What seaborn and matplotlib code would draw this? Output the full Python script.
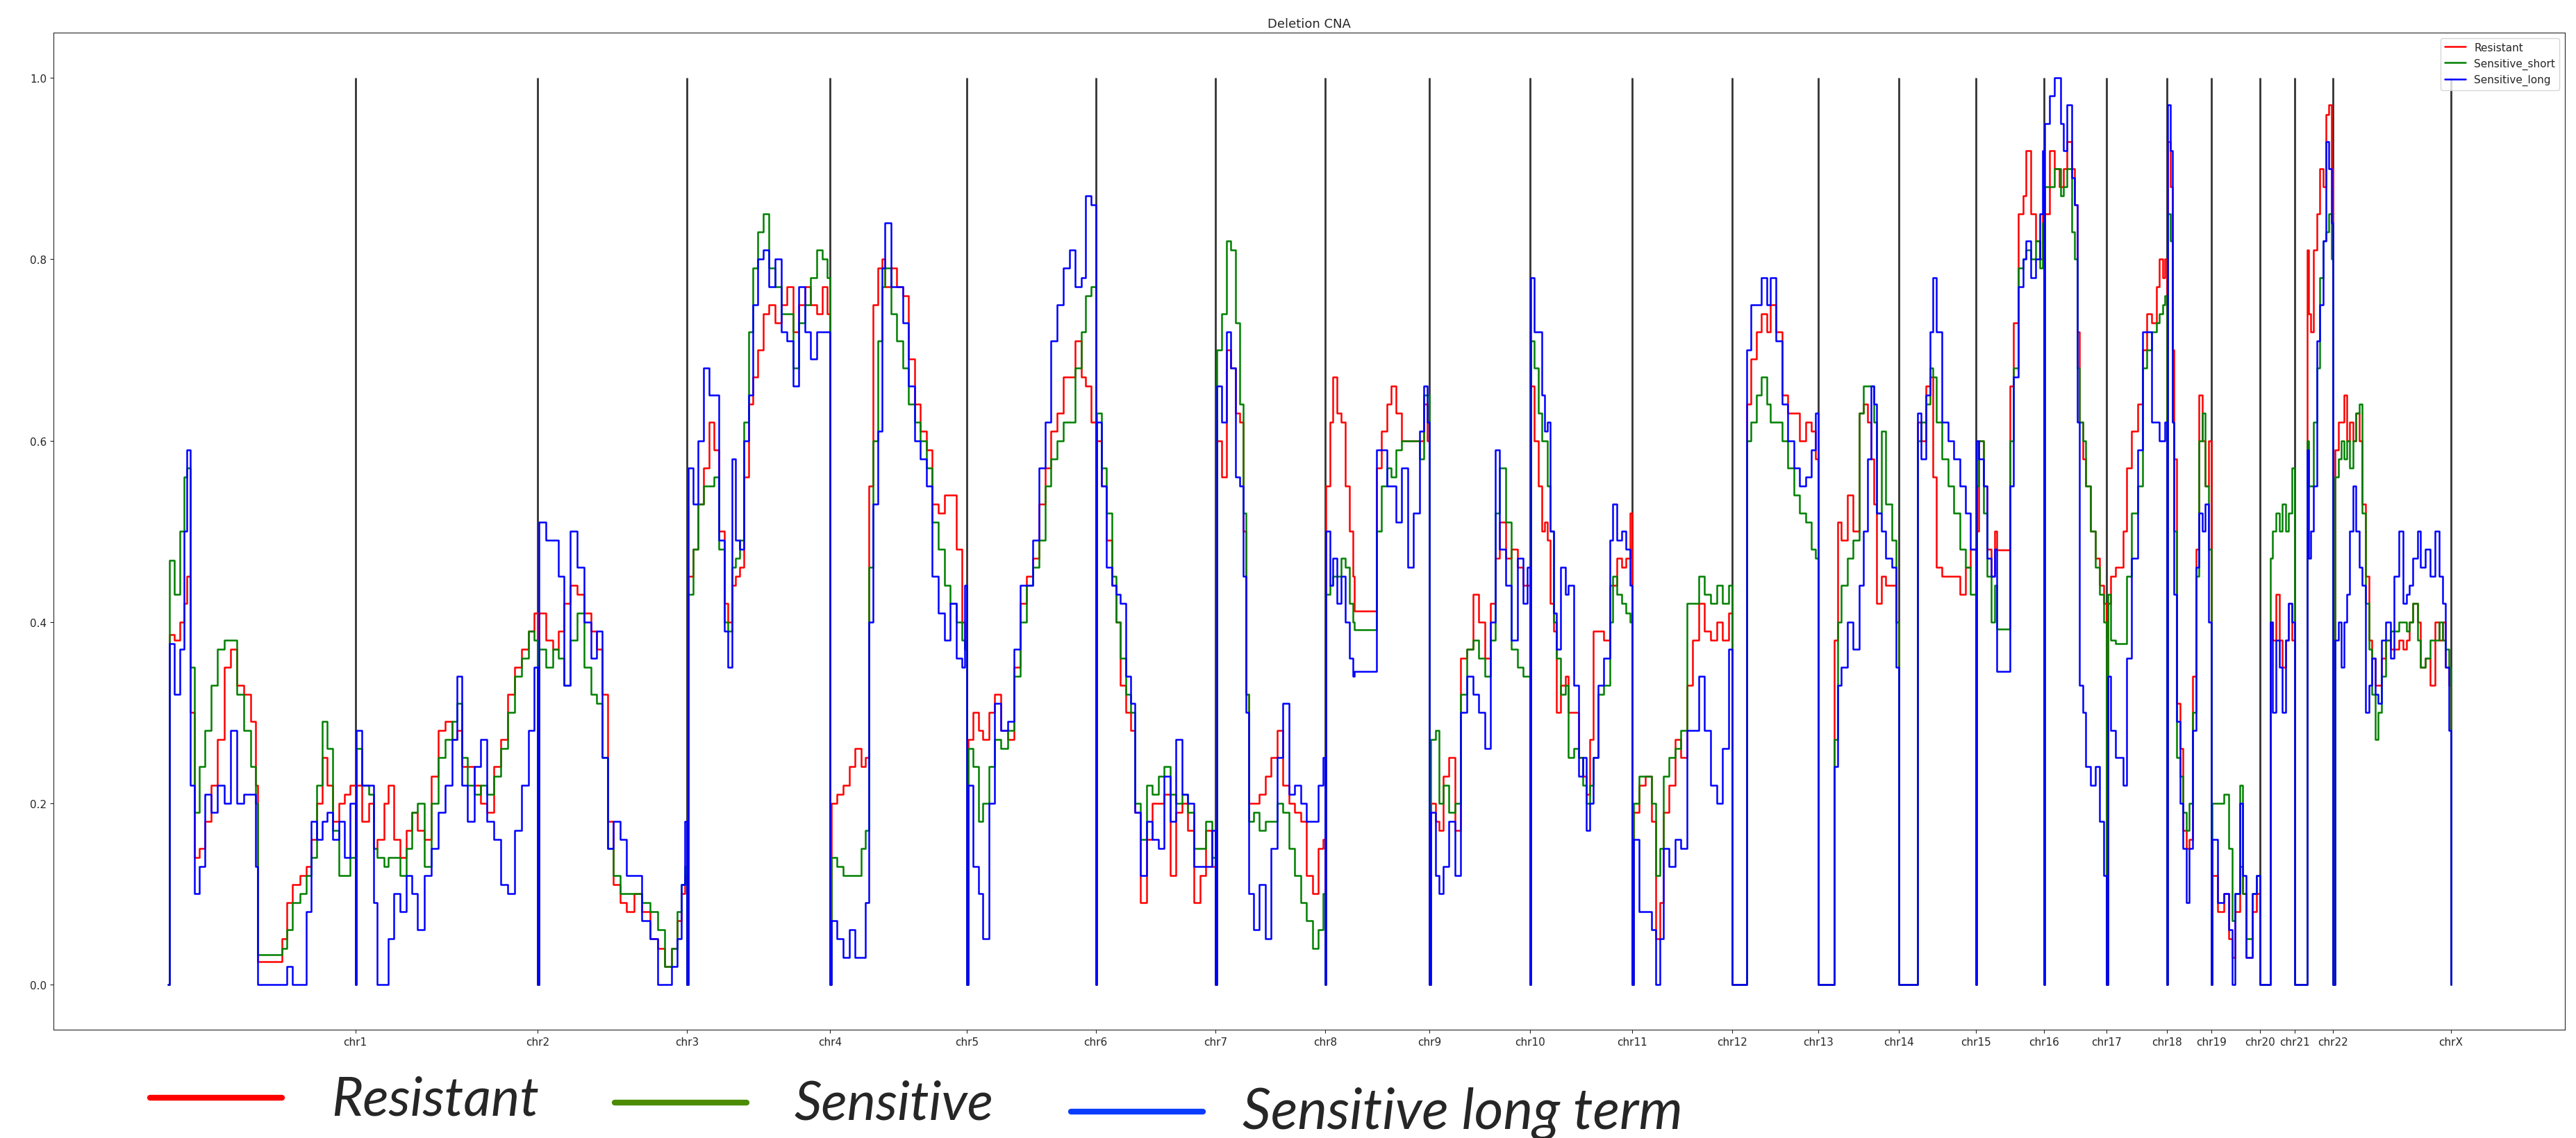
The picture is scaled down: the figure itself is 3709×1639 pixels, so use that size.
# Deletion CNA profile along the genome for three sample groups.
import seaborn as sns
import matplotlib.pyplot as plt
from matplotlib.lines import Line2D
import pandas as pd

# chromosome names and their end positions (genomic window index)
chrom_names = ['chr1', 'chr2', 'chr3', 'chr4', 'chr5', 'chr6', 'chr7', 'chr8', 'chr9', 'chr10',
               'chr11', 'chr12', 'chr13', 'chr14', 'chr15', 'chr16', 'chr17', 'chr18', 'chr19',
               'chr20', 'chr21', 'chr22', 'chrX']
chrom_end = [270.1, 532.8, 747.9, 954.2, 1151.2, 1336.5, 1509.3, 1666.8, 1816.9, 1962.1,
             2108.6, 2253.2, 2377.3, 2493.4, 2604.0, 2702.0, 2792.3, 2879.5, 2943.1,
             3013.0, 3063.7, 3118.8, 3288.1]

# window positions, one line per chromosome
window = [
    0, 2, 10, 18, 24, 28, 33, 39, 46, 54, 63, 72, 82, 91, 100, 110, 120, 127, 130, 165, 172, 180, 191, 200, 207, 215, 223, 230, 238, 247, 255, 263,
    270.1, 272, 280, 290, 297, 302, 312, 318, 326, 335, 344, 352, 360, 370, 380, 390, 400, 410, 417, 424, 432, 442, 451, 460, 470, 480, 490, 500, 510, 520, 528,
    532.8, 535, 545, 555, 563, 571, 580, 590, 600, 610, 618, 626, 634, 642, 652, 661, 672, 683, 695, 706, 716, 726, 734, 740, 745,
    747.9, 750, 757, 764, 772, 780, 787, 794, 802, 807, 813, 818, 824, 830, 837, 843, 850, 858, 866, 875, 884, 892, 901, 909, 918, 926, 935, 943, 950,
    954.2, 956, 964, 973, 982, 990, 999, 1005, 1010, 1016, 1023, 1029, 1033, 1042, 1050, 1059, 1067, 1076, 1084, 1093, 1101, 1110, 1119, 1127, 1136, 1144, 1148,
    1151.2, 1153, 1160, 1168, 1174, 1183, 1191, 1200, 1210, 1219, 1228, 1237, 1246, 1255, 1264, 1272, 1281, 1290, 1299, 1307, 1316, 1322, 1330,
    1336.5, 1338, 1345, 1352, 1360, 1366, 1372, 1380, 1387, 1393, 1401, 1410, 1418, 1427, 1435, 1444, 1452, 1461, 1469, 1478, 1487, 1495, 1504,
    1509.3, 1511, 1518, 1525, 1531, 1538, 1544, 1549, 1553, 1557, 1564, 1572, 1581, 1589, 1598, 1606, 1615, 1623, 1632, 1640, 1649, 1657, 1664,
    1666.8, 1668, 1674, 1678, 1684, 1690, 1696, 1702, 1707, 1709, 1741, 1748, 1756, 1762, 1769, 1777, 1786, 1794, 1803, 1809, 1814,
    1816.9, 1819, 1826, 1831, 1837, 1845, 1854, 1862, 1871, 1880, 1888, 1897, 1905, 1912, 1918, 1927, 1935, 1944, 1952, 1958,
    1962.1, 1963, 1968, 1974, 1979, 1983, 1987, 1991, 1996, 2000, 2006, 2013, 2017, 2025, 2032, 2038, 2043, 2048, 2053, 2060, 2068, 2077, 2081, 2087, 2094, 2100, 2106,
    2108.6, 2111, 2119, 2128, 2137, 2143, 2149, 2154, 2162, 2171, 2179, 2188, 2196, 2205, 2213, 2222, 2231, 2239, 2248,
    2253.2, 2274, 2280, 2288, 2295, 2303, 2308, 2316, 2325, 2333, 2342, 2350, 2359, 2367, 2373,
    2377.3, 2400, 2405, 2410, 2419, 2427, 2436, 2442, 2448, 2453, 2457, 2461, 2468, 2474, 2483, 2489,
    2493.4, 2520, 2525, 2532, 2538, 2542, 2547, 2555, 2564, 2572, 2581, 2589, 2596,
    2604.0, 2605, 2608, 2615, 2620, 2626, 2631, 2634, 2653, 2658, 2665, 2672, 2676, 2683, 2690, 2696, 2700,
    2702.0, 2703, 2710, 2717, 2724, 2726, 2730, 2735, 2742, 2746, 2750, 2753, 2758, 2762, 2769, 2776, 2782, 2788,
    2792.3, 2794, 2798, 2805, 2816, 2821, 2828, 2837, 2844, 2850, 2857, 2864, 2868, 2873, 2876,
    2879.5, 2880, 2884, 2887, 2889, 2893, 2898, 2902, 2907, 2911, 2916, 2921, 2925, 2930, 2934, 2939,
    2943.1, 2944, 2952, 2961, 2968, 2973, 2977, 2984, 2988, 2993, 3002, 3008,
    3013.0, 3028, 3031, 3036, 3041, 3045, 3050, 3054, 3059,
    3063.7, 3081, 3083, 3086, 3090, 3095, 3099, 3104, 3108, 3112, 3116,
    3118.8, 3121, 3126, 3130, 3134, 3138, 3142, 3147, 3151, 3156, 3160, 3165, 3170, 3174, 3179, 3183, 3188, 3194, 3201, 3206, 3213, 3219, 3224, 3228, 3233, 3240, 3244, 3251, 3258, 3265, 3271, 3276, 3280, 3285, 3288.1,
]

resistant = [
    0, .386, .38, .40, .42, .45, .30, .14, .15, .18, .22, .27, .35, .37, .33, .32, .29, .22, .025, .05, .09, .11, .12, .13, .16, .20, .25, .22, .18, .20, .21, .22,
    0, .22, .18, .20, .15, .16, .20, .22, .16, .14, .17, .19, .17, .16, .23, .28, .29, .27, .28, .24, .24, .22, .20, .19, .24, .27, .32, .35, .37, .39, .41,
    0, .41, .38, .37, .39, .42, .44, .43, .41, .39, .37, .32, .18, .11, .09, .08, .10, .08, .05, .04, .02, .04, .07, .10, .12,
    0, .45, .48, .53, .57, .62, .59, .50, .42, .40, .44, .45, .46, .56, .64, .67, .70, .74, .75, .73, .75, .77, .72, .75, .77, .75, .74, .77, .74,
    0, .20, .21, .22, .24, .26, .24, .25, .55, .75, .79, .80, .77, .79, .77, .76, .69, .64, .61, .59, .53, .52, .54, .54, .48, .40, .37,
    0, .27, .30, .28, .27, .30, .32, .28, .27, .35, .42, .45, .47, .53, .57, .61, .63, .67, .67, .71, .67, .66, .62,
    0, .60, .55, .49, .44, .40, .33, .30, .28, .19, .09, .16, .20, .20, .21, .12, .19, .20, .17, .09, .12, .17, .13,
    0, .60, .56, .70, .68, .63, .62, .50, .32, .20, .20, .21, .23, .25, .28, .22, .20, .19, .18, .12, .10, .15, .16,
    0, .55, .62, .67, .63, .62, .55, .50, .45, .412, .57, .61, .64, .66, .63, .60, .60, .60, .60, .64, .60,
    0, .20, .18, .17, .23, .25, .17, .36, .37, .43, .40, .36, .42, .47, .51, .47, .48, .46, .44, .44,
    0, .66, .60, .55, .50, .51, .49, .42, .39, .30, .33, .34, .30, .30, .25, .23, .21, .27, .39, .39, .38, .44, .44, .47, .46, .47, .52,
    0, .19, .22, .23, .18, .05, .09, .19, .22, .27, .25, .33, .38, .42, .39, .38, .40, .38, .41,
    0, .64, .69, .72, .74, .72, .75, .72, .65, .63, .63, .60, .62, .61, .58,
    0, .38, .51, .49, .54, .50, .63, .64, .62, .58, .53, .42, .45, .44, .44, .40,
    0, .62, .60, .66, .67, .56, .46, .45, .45, .45, .43, .46, .48,
    0, .50, .60, .55, .48, .45, .50, .479, .66, .73, .85, .87, .92, .85, .82, .80, .85,
    0, .85, .92, .90, .88, .88, .90, .93, .90, .86, .72, .62, .58, .55, .50, .47, .44, .42,
    0, .42, .45, .46, .50, .57, .61, .64, .70, .74, .73, .77, .80, .78, .80,
    0, .93, .88, .70, .58, .31, .26, .17, .15, .16, .34, .48, .65, .60, .55, .60,
    0, .12, .08, .10, .05, .03, .08, .13, .10, .03, .08, .10,
    0, .40, .38, .43, .38, .35, .38, .42, .38,
    0, .81, .74, .72, .81, .85, .90, .88, .96, .97, .90,
    0, .59, .62, .62, .65, .60, .62, .60, .63, .60, .53, .45, .38, .36, .33, .33, .36, .38, .37, .37, .38, .37, .38, .40, .42, .40, .35, .36, .33, .40, .38, .40, .35, .33, 0,
]

sensitive_short = [
    0, .468, .43, .50, .56, .57, .35, .19, .24, .28, .33, .37, .38, .38, .32, .28, .24, .20, .033, .04, .06, .09, .10, .12, .14, .22, .29, .26, .17, .12, .12, .14,
    0, .26, .22, .21, .15, .14, .13, .14, .14, .12, .15, .19, .20, .13, .20, .25, .27, .29, .31, .25, .22, .21, .22, .21, .23, .26, .30, .34, .36, .39, .38,
    0, .37, .35, .37, .36, .33, .38, .41, .35, .32, .31, .25, .15, .12, .10, .10, .10, .09, .08, .06, .02, .04, .08, .11, .13,
    0, .43, .48, .53, .55, .55, .56, .48, .40, .39, .46, .47, .49, .62, .72, .79, .83, .85, .79, .77, .74, .74, .68, .73, .75, .78, .81, .80, .78,
    0, .14, .13, .12, .12, .12, .15, .17, .46, .60, .71, .77, .79, .74, .71, .68, .64, .62, .60, .57, .51, .48, .44, .42, .40, .38, .37,
    0, .26, .24, .18, .20, .24, .27, .26, .28, .34, .40, .44, .46, .49, .55, .58, .60, .62, .62, .68, .72, .76, .77,
    0, .63, .57, .52, .45, .40, .36, .32, .30, .20, .16, .22, .21, .23, .24, .21, .20, .21, .19, .15, .15, .18, .14,
    0, .70, .74, .82, .81, .73, .64, .52, .32, .18, .19, .17, .18, .18, .20, .19, .15, .12, .09, .07, .04, .06, .10,
    0, .43, .44, .45, .45, .47, .46, .42, .40, .391, .50, .55, .57, .56, .59, .60, .60, .60, .58, .65, .65,
    0, .27, .28, .20, .22, .19, .20, .32, .37, .38, .36, .34, .38, .52, .57, .51, .37, .35, .34, .34,
    0, .71, .68, .63, .60, .60, .55, .50, .40, .36, .32, .33, .25, .26, .25, .22, .20, .22, .25, .32, .33, .40, .45, .43, .42, .41, .40,
    0, .20, .23, .23, .20, .12, .15, .23, .25, .26, .28, .42, .42, .45, .43, .42, .44, .42, .44,
    0, .60, .62, .65, .67, .64, .62, .62, .60, .57, .54, .52, .51, .48, .47,
    0, .27, .40, .44, .47, .49, .63, .66, .66, .66, .62, .52, .61, .53, .49, .40,
    0, .60, .62, .64, .68, .67, .62, .58, .55, .52, .48, .46, .43,
    0, .55, .60, .52, .45, .40, .44, .392, .60, .68, .79, .80, .81, .80, .82, .79, .84,
    0, .88, .88, .90, .90, .87, .88, .90, .83, .80, .68, .62, .60, .55, .50, .46, .43, .40,
    0, .43, .38, .376, .376, .45, .52, .55, .68, .70, .72, .73, .74, .75, .76,
    0, .85, .82, .62, .50, .25, .23, .19, .17, .20, .30, .45, .60, .63, .55, .48,
    0, .20, .20, .21, .15, .07, .10, .22, .10, .05, .10, .12,
    0, .47, .50, .52, .50, .53, .50, .52, .57,
    0, .60, .55, .55, .62, .68, .78, .82, .83, .85, .80,
    0, .56, .58, .60, .58, .60, .57, .60, .63, .64, .52, .42, .37, .32, .27, .30, .34, .38, .39, .39, .40, .40, .39, .40, .42, .38, .35, .36, .38, .38, .40, .38, .37, .35, 0,
]

sensitive_long = [
    0, .376, .32, .37, .50, .59, .22, .10, .13, .21, .19, .22, .20, .28, .20, .21, .21, .13, 0, 0, .02, 0, 0, .08, .18, .16, .18, .19, .16, .18, .14, .20,
    0, .28, .22, .22, .09, 0, 0, .05, .10, .08, .12, .10, .06, .12, .15, .19, .22, .27, .34, .22, .18, .24, .27, .18, .16, .11, .10, .17, .22, .28, .35,
    0, .51, .49, .49, .45, .33, .50, .46, .40, .36, .39, .25, .15, .18, .16, .12, .12, .07, .05, 0, 0, .02, .05, .11, .18,
    0, .57, .53, .60, .68, .65, .65, .49, .39, .35, .58, .49, .48, .60, .65, .75, .80, .81, .77, .80, .72, .71, .66, .77, .72, .69, .72, .72, .72,
    0, .07, .05, .03, .06, .03, .03, .09, .40, .53, .61, .79, .84, .77, .77, .73, .66, .60, .58, .55, .45, .41, .38, .42, .36, .35, .44,
    0, .22, .13, .10, .05, .20, .31, .28, .29, .37, .44, .44, .49, .57, .62, .71, .75, .79, .81, .77, .78, .87, .86,
    0, .62, .55, .46, .44, .43, .42, .34, .31, .19, .12, .18, .16, .15, .23, .18, .27, .21, .20, .13, .13, .13, .17,
    0, .66, .62, .72, .68, .56, .55, .45, .30, .10, .06, .11, .05, .15, .25, .31, .21, .22, .20, .18, .18, .22, .25,
    0, .50, .44, .47, .42, .45, .40, .36, .34, .345, .59, .59, .55, .55, .51, .57, .46, .52, .61, .66, .62,
    0, .19, .12, .10, .13, .18, .12, .30, .34, .32, .30, .26, .40, .59, .48, .44, .38, .47, .42, .46,
    0, .78, .72, .72, .65, .61, .62, .50, .41, .37, .46, .43, .44, .33, .23, .25, .17, .20, .25, .33, .36, .49, .53, .49, .50, .48, .44,
    0, .16, .08, .08, .06, 0, .05, .15, .13, .16, .15, .28, .28, .34, .28, .22, .20, .26, .37,
    0, .70, .75, .75, .78, .75, .78, .71, .64, .60, .57, .55, .56, .59, .63,
    0, .24, .33, .35, .40, .37, .44, .50, .58, .66, .64, .52, .50, .47, .46, .35,
    0, .63, .58, .65, .72, .78, .72, .62, .60, .58, .55, .52, .48,
    0, .60, .58, .55, .47, .45, .48, .345, .55, .67, .77, .80, .82, .78, .80, .85, .92,
    0, .95, .98, 1.0, 1.0, .95, .92, .97, .89, .86, .62, .33, .30, .24, .22, .24, .18, .12,
    0, .34, .28, .25, .22, .36, .47, .59, .72, .72, .62, .62, .60, .60, .62,
    0, .97, .92, .62, .43, .29, .20, .15, .09, .15, .28, .46, .52, .50, .53, .40,
    0, .16, .09, .10, .06, 0, .10, .20, .12, .03, .10, .12,
    0, .40, .30, .38, .35, .30, .38, .42, .40,
    0, .59, .47, .50, .55, .71, .75, .82, .93, .90, .84,
    0, .38, .40, .35, .40, .43, .50, .55, .50, .46, .44, .30, .33, .36, .32, .31, .38, .40, .36, .45, .50, .42, .43, .44, .47, .50, .46, .48, .45, .50, .45, .42, .35, .28, 0,
]

df = pd.DataFrame({'window': window, 'Resistant': resistant,
                   'Sensitive_short': sensitive_short, 'Sensitive_long': sensitive_long})

sns.set_style('ticks')
plt.rcParams['font.family'] = ['DejaVu Sans']

fig, ax = plt.subplots(figsize=(37.09, 16.40), dpi=100)
fig.subplots_adjust(left=0.0208, right=0.9957, top=0.9707, bottom=0.0951)

# chromosome borders
ax.vlines(chrom_end, 0, 1, colors='#333333', linewidth=2, zorder=1)

for col, c in [('Resistant', 'red'), ('Sensitive_short', 'green'), ('Sensitive_long', 'blue')]:
    sns.lineplot(data=df, x='window', y=col, color=c, label=col, ax=ax,
                 estimator=None, sort=False, drawstyle='steps-post', linewidth=1.8, zorder=2)

ax.set_xlim(-164.4, 3452.5)
ax.set_ylim(-0.05, 1.05)
ax.set_xticks(chrom_end)
ax.set_xticklabels(chrom_names, fontsize=11)
ax.set_yticks([0.0, 0.2, 0.4, 0.6, 0.8, 1.0])
ax.set_yticklabels(['0.0', '0.2', '0.4', '0.6', '0.8', '1.0'], fontsize=11)
ax.set_xlabel('')
ax.set_ylabel('')
ax.set_title('Deletion CNA', fontsize=13)
ax.legend(loc='upper right', fontsize=11)

# big legend under the plot
big = [('Resistant', '#ff0000', 0.0582, 0.1095, 0.0354, 0.1286, 0.0207, 56),
       ('Sensitive', '#4b8c00', 0.2386, 0.2898, 0.0311, 0.3084, 0.0165, 56),
       ('Sensitive long term', '#0a3cff', 0.4157, 0.4670, 0.0232, 0.4823, 0.0091, 58)]
for txt, c, x0, x1, ly, tx, ty, fs in big:
    fig.add_artist(Line2D([x0, x1], [ly, ly], transform=fig.transFigure, color=c, linewidth=6))
    fig.text(tx, ty, txt, fontsize=fs, fontstyle='italic', family=['Lato', 'DejaVu Sans'],
             va='baseline', ha='left')

plt.savefig('out.png', dpi=100)
